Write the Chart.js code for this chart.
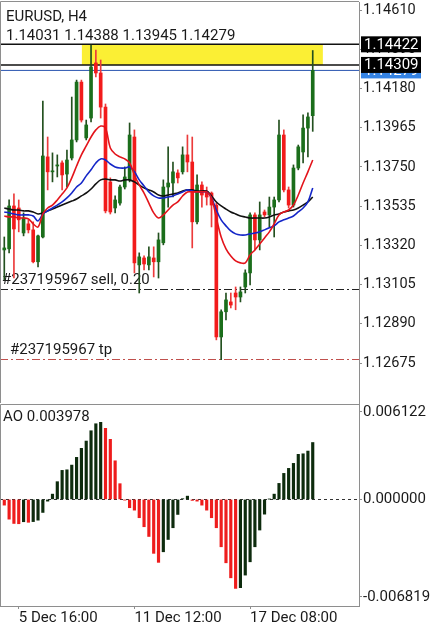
<!DOCTYPE html>
<html>
<head>
<meta charset="utf-8">
<script src="https://cdn.jsdelivr.net/npm/chart.js@4.4.1/dist/chart.umd.min.js"></script>
<style>
  html, body { margin: 0; padding: 0; background: #fff; }
  #wrap { position: relative; width: 434px; height: 625px; overflow: hidden; }
  #main-chart { position: absolute; left: 0; top: 0; }
  #ao-chart { position: absolute; left: 0; top: 404px; }
</style>
</head>
<body>
<div id="wrap">
  <canvas id="main-chart" width="434" height="404"></canvas>
  <canvas id="ao-chart" width="434" height="221"></canvas>
</div>
<script>
// EURUSD H4 candles (oldest -> newest)
var opens  = [1.13295,1.13301,1.13536,1.13525,1.13388,1.13438,1.13405,1.13230,1.13366,1.13805,
              1.13723,1.13755,1.13772,1.13711,1.13799,1.13898,1.14215,1.13909,1.14018,1.14320,
              1.14265,1.14078,1.13668,1.13525,1.13552,1.13640,1.13679,1.13914,1.13213,1.13251,
              1.13213,1.13251,1.13230,1.13334,1.13640,1.13662,1.13717,1.13723,1.13816,1.13777,
              1.13449,1.13651,1.13613,1.13607,1.13541,1.12818,1.12956,1.13010,1.13059,1.13037,
              1.13092,1.13169,1.13487,1.13350,1.13503,1.13487,1.13530,1.13569,1.13925,1.13624,
              1.13541,1.13744,1.13832,1.13963,1.14031];
var highs  = [1.13366,1.13569,1.13602,1.13569,1.13498,1.13460,1.13449,1.13377,1.14111,1.13914,
              1.13827,1.13816,1.13783,1.13843,1.14133,1.14226,1.14226,1.14007,1.14418,1.14391,
              1.14336,1.14095,1.13690,1.13591,1.13651,1.13750,1.13991,1.13953,1.13279,1.13262,
              1.13312,1.13312,1.13388,1.13679,1.13860,1.13777,1.13734,1.13860,1.13925,1.13914,
              1.13706,1.13668,1.13640,1.13613,1.13552,1.12967,1.13059,1.13059,1.13092,1.13092,
              1.13186,1.13498,1.13498,1.13558,1.13514,1.13585,1.13585,1.14007,1.13953,1.13640,
              1.13761,1.13870,1.14035,1.14046,1.14388];
var lows   = [1.13131,1.13279,1.13141,1.13394,1.13372,1.13388,1.13224,1.13202,1.13361,1.13624,
              1.13668,1.13695,1.13624,1.13640,1.13788,1.13887,1.13996,1.13898,1.13996,1.14243,
              1.14018,1.13498,1.13492,1.13498,1.13541,1.13629,1.13668,1.13169,1.13059,1.13186,
              1.13186,1.13147,1.13141,1.13323,1.13530,1.13585,1.13662,1.13711,1.13723,1.13306,
              1.13438,1.13530,1.13541,1.13421,1.12802,1.12693,1.12912,1.12977,1.12967,1.13010,
              1.13059,1.13103,1.13295,1.13295,1.13476,1.13421,1.13366,1.13558,1.13613,1.13525,
              1.13530,1.13734,1.13772,1.13805,1.13945];
var closes = [1.13306,1.13536,1.13410,1.13460,1.13470,1.13405,1.13230,1.13372,1.13810,1.13723,
              1.13728,1.13761,1.13706,1.13788,1.13898,1.14215,1.14007,1.13980,1.14298,1.14265,
              1.14078,1.13509,1.13503,1.13569,1.13640,1.13695,1.13925,1.13224,1.13257,1.13218,
              1.13257,1.13230,1.13350,1.13640,1.13662,1.13723,1.13690,1.13816,1.13777,1.13449,
              1.13651,1.13596,1.13585,1.13541,1.12818,1.12956,1.13021,1.12993,1.13037,1.13065,
              1.13169,1.13487,1.13350,1.13487,1.13487,1.13530,1.13569,1.13925,1.13624,1.13541,
              1.13744,1.13860,1.13963,1.14024,1.14279];

// moving averages as drawn on the chart
var maFast = [1.13481,1.13476,1.13476,1.13470,1.13470,1.13465,1.13438,1.13421,1.13492,1.13525,
              1.13541,1.13569,1.13602,1.13635,1.13690,1.13755,1.13816,1.13865,1.13914,1.13953,
              1.13974,1.13963,1.13854,1.13821,1.13805,1.13794,1.13772,1.13706,1.13651,1.13607,
              1.13552,1.13498,1.13470,1.13487,1.13514,1.13541,1.13558,1.13591,1.13613,1.13613,
              1.13613,1.13613,1.13613,1.13580,1.13470,1.13366,1.13301,1.13262,1.13235,1.13224,
              1.13224,1.13268,1.13295,1.13328,1.13361,1.13394,1.13438,1.13487,1.13503,1.13514,
              1.13541,1.13596,1.13662,1.13723,1.13788];
var maMid  = [1.13503,1.13498,1.13492,1.13487,1.13487,1.13487,1.13481,1.13454,1.13492,1.13509,
              1.13525,1.13541,1.13558,1.13580,1.13607,1.13640,1.13662,1.13701,1.13734,1.13772,
              1.13794,1.13788,1.13766,1.13750,1.13744,1.13744,1.13750,1.13723,1.13679,1.13646,
              1.13613,1.13591,1.13580,1.13580,1.13585,1.13591,1.13602,1.13613,1.13624,1.13618,
              1.13613,1.13613,1.13613,1.13580,1.13514,1.13460,1.13427,1.13399,1.13383,1.13377,
              1.13377,1.13383,1.13388,1.13394,1.13405,1.13416,1.13427,1.13449,1.13460,1.13470,
              1.13481,1.13503,1.13525,1.13558,1.13635];
var maSlow = [1.13525,1.13519,1.13514,1.13514,1.13509,1.13509,1.13503,1.13492,1.13498,1.13509,
              1.13519,1.13530,1.13541,1.13552,1.13563,1.13574,1.13591,1.13607,1.13629,1.13657,
              1.13679,1.13684,1.13679,1.13679,1.13673,1.13679,1.13679,1.13668,1.13651,1.13635,
              1.13624,1.13613,1.13596,1.13591,1.13596,1.13602,1.13607,1.13618,1.13624,1.13624,
              1.13618,1.13618,1.13618,1.13591,1.13558,1.13536,1.13519,1.13503,1.13492,1.13481,
              1.13476,1.13470,1.13470,1.13470,1.13470,1.13476,1.13487,1.13492,1.13503,1.13509,
              1.13514,1.13525,1.13541,1.13558,1.13585];

// Awesome Oscillator
var aoValues = [-0.00040,-0.00138,-0.00168,-0.00170,-0.00156,-0.00160,-0.00155,-0.00145,-0.00091,-0.00012,
                 0.00037, 0.00124, 0.00203, 0.00207, 0.00240, 0.00294, 0.00357, 0.00408, 0.00480, 0.00529,
                 0.00539, 0.00497, 0.00420, 0.00270, 0.00110,-0.00005,-0.00058,-0.00075,-0.00128,-0.00191,
                -0.00259,-0.00377,-0.00440,-0.00366,-0.00280,-0.00198,-0.00105, 0.00005, 0.00023,-0.00007,
                -0.00012,-0.00040,-0.00075,-0.00128,-0.00198,-0.00331,-0.00443,-0.00548,-0.00622,-0.00617,
                -0.00529,-0.00436,-0.00331,-0.00214,-0.00103, 0.00002, 0.00037, 0.00112, 0.00182, 0.00217,
                 0.00252, 0.00315, 0.00319, 0.00338, 0.003978];

// axes
var priceTicks = [1.14610,1.14395,1.14180,1.13965,1.13750,1.13535,1.13320,1.13105,1.12890,1.12675];
var aoTicks = [0.006122, 0, -0.006819];
var dateLabels = ['5 Dec 16:00', '11 Dec 12:00', '17 Dec 08:00'];
var dateBars = [3, 27, 51];

// objects on the chart
var levelLines = [1.14422, 1.14309];
var zoneBars = [16.1, 66.1];
var orderLabel = '#237195967 sell, 0.20';
var orderPrice = 1.13079;
var tpLabel = '#237195967 tp';
var tpPrice = 1.12696;

Chart.defaults.font.family = 'Roboto';
Chart.defaults.color = '#1a1a1a';

const xMin = -0.89, xMax = 73.6;
const GREEN = '#1b6e1b', RED = '#f21b1b';
const AXIS = '#8e8e8e';

function fmt(v, d) { return v.toFixed(d); }

// keep the plot area where MT4 puts it (no room reserved for edge labels)
function noPad(s) {
    s.paddingTop = 0; s.paddingBottom = 0; s.paddingLeft = 0; s.paddingRight = 0;
}

const mainPlugin = {
    id: 'mainPlugin',
    beforeDatasetsDraw(chart) {
        const ctx = chart.ctx;
        const a = chart.chartArea;
        const x = chart.scales.x, y = chart.scales.y;
        ctx.save();
        // yellow zone
        const zx1 = x.getPixelForValue(zoneBars[0]), zx2 = x.getPixelForValue(zoneBars[1]);
        const zy1 = y.getPixelForValue(levelLines[0]), zy2 = y.getPixelForValue(levelLines[1]);
        ctx.fillStyle = '#fbef34';
        ctx.fillRect(zx1, zy1, zx2 - zx1, zy2 - zy1);

        // levels
        ctx.lineWidth = 1.5;
        ctx.strokeStyle = '#111';
        levelLines.forEach(function (p) {
            const py = y.getPixelForValue(p);
            ctx.beginPath(); ctx.moveTo(a.left, py); ctx.lineTo(a.right, py); ctx.stroke();
        });
        // bid line
        const by = y.getPixelForValue(closes[closes.length - 1]);
        ctx.lineWidth = 1;
        ctx.strokeStyle = '#2a55b0';
        ctx.beginPath(); ctx.moveTo(a.left, by); ctx.lineTo(a.right, by); ctx.stroke();

        // order + tp lines
        ctx.setLineDash([8, 3, 2, 3]);
        ctx.strokeStyle = '#222';
        let oy = Math.round(y.getPixelForValue(orderPrice)) + 0.5;
        ctx.beginPath(); ctx.moveTo(a.left, oy); ctx.lineTo(a.right, oy); ctx.stroke();
        ctx.strokeStyle = '#c0504d';
        let ty = Math.round(y.getPixelForValue(tpPrice)) + 0.5;
        ctx.beginPath(); ctx.moveTo(a.left, ty); ctx.lineTo(a.right, ty); ctx.stroke();
        ctx.setLineDash([]);

        ctx.fillStyle = '#1a1a1a';
        ctx.font = '15px Roboto';
        ctx.textBaseline = 'middle';
        ctx.fillText(orderLabel, 2, oy - 9);
        ctx.fillText(tpLabel, 10, ty - 9);

        // header
        const n = closes.length - 1;
        ctx.fillText('EURUSD, H4', 6, 17);
        ctx.fillText([opens[n], highs[n], lows[n], closes[n]].map(v => fmt(v, 5)).join(' '), 6, 36);
        ctx.restore();
    },
    afterDraw(chart) {
        const ctx = chart.ctx;
        const a = chart.chartArea;
        const y = chart.scales.y;
        ctx.save();
        ctx.strokeStyle = AXIS;
        ctx.lineWidth = 1;
        ctx.beginPath();
        ctx.moveTo(a.left + 0.5, a.bottom); ctx.lineTo(a.left + 0.5, a.top - 0.5); ctx.lineTo(a.right, a.top - 0.5);
        ctx.stroke();

        // price boxes on the axis
        const boxes = [
            [closes[closes.length - 1], '#3483e4'],
            [levelLines[0], '#000'],
            [levelLines[1], '#000']
        ];
        ctx.font = '15px Roboto';
        ctx.textBaseline = 'middle';
        boxes.forEach(function (b) {
            const py = y.getPixelForValue(b[0]);
            ctx.fillStyle = b[1];
            ctx.fillRect(361, py - 8, 60, 16);
            ctx.fillStyle = '#fff';
            ctx.fillText(fmt(b[0], 5), 364, py + 0.5);
        });
        ctx.restore();
    }
};

function createMainChart()
{
    const ctx = document.getElementById('main-chart');
    const idx = closes.map((c, i) => i);
    const up = idx.map(i => closes[i] >= opens[i]);

    new Chart(ctx, {
        type: 'bar',
        data: {
            datasets: [
                {
                    type: 'line', label: 'fast', order: 0,
                    data: maFast.map((v, i) => ({x: i, y: v})),
                    borderColor: '#e3141b', borderWidth: 1.6, pointRadius: 0, tension: 0.35
                },
                {
                    type: 'line', label: 'mid', order: 1,
                    data: maMid.map((v, i) => ({x: i, y: v})),
                    borderColor: '#1426c8', borderWidth: 1.6, pointRadius: 0, tension: 0.35
                },
                {
                    type: 'line', label: 'slow', order: 2,
                    data: maSlow.map((v, i) => ({x: i, y: v})),
                    borderColor: '#111', borderWidth: 1.6, pointRadius: 0, tension: 0.35
                },
                {
                    label: 'body', order: 4, grouped: false,
                    data: idx.map(i => ({x: i, y: [opens[i], closes[i]]})),
                    backgroundColor: up.map(u => u ? GREEN : RED),
                    barThickness: 3, minBarLength: 1, borderWidth: 0
                },
                {
                    label: 'wick', order: 5, grouped: false,
                    data: idx.map(i => ({x: i, y: [lows[i], highs[i]]})),
                    backgroundColor: up.map(u => u ? '#23501f' : '#ec3b3b'),
                    barThickness: 1, borderWidth: 0
                }
            ]
        },
        options: {
            responsive: false,
            animation: false,
            devicePixelRatio: 1,
            layout: { padding: { top: 2, bottom: 1, left: 0, right: 0 } },
            plugins: { legend: { display: false }, tooltip: { enabled: false } },
            scales: {
                x: { type: 'linear', min: xMin, max: xMax, offset: false, display: false },
                y: {
                    position: 'right',
                    min: 1.12456, max: 1.14654,
                    afterFit: s => { s.width = 75; noPad(s); },
                    afterBuildTicks: s => { s.ticks = priceTicks.map(v => ({value: v})); },
                    ticks: { callback: v => fmt(v, 5), font: { size: 14.5 }, color: '#1a1a1a', padding: 1, autoSkip: false },
                    grid: { drawOnChartArea: false, tickLength: 3, color: AXIS },
                    border: { color: AXIS }
                }
            }
        },
        plugins: [mainPlugin]
    });
}

const aoPlugin = {
    id: 'aoPlugin',
    beforeDatasetsDraw(chart) {
        const ctx = chart.ctx;
        const a = chart.chartArea;
        const y0 = Math.round(chart.scales.y.getPixelForValue(0)) + 0.5;
        ctx.save();
        ctx.strokeStyle = '#333';
        ctx.lineWidth = 1;
        ctx.setLineDash([3, 3]);
        ctx.beginPath(); ctx.moveTo(a.left, y0); ctx.lineTo(a.right, y0); ctx.stroke();
        ctx.setLineDash([]);
        ctx.fillStyle = '#1a1a1a';
        ctx.font = '15px Roboto';
        ctx.textBaseline = 'middle';
        ctx.fillText('AO ' + fmt(aoValues[aoValues.length - 1], 6), 3, 13);
        ctx.restore();
    },
    afterDraw(chart) {
        const ctx = chart.ctx;
        const a = chart.chartArea;
        ctx.save();
        ctx.strokeStyle = AXIS;
        ctx.lineWidth = 1;
        ctx.beginPath();
        ctx.moveTo(a.left + 0.5, a.bottom); ctx.lineTo(a.left + 0.5, a.top + 0.5); ctx.lineTo(a.right, a.top + 0.5);
        ctx.stroke();
        ctx.restore();
    }
};

function createAOChart()
{
    const ctx = document.getElementById('ao-chart');
    const colors = aoValues.map((v, i) => (i > 0 && v > aoValues[i - 1]) ? '#0d2b0d' : '#ee1c1c');

    new Chart(ctx, {
        type: 'bar',
        data: {
            datasets: [{
                label: 'AO',
                data: aoValues.map((v, i) => ({x: i, y: v})),
                backgroundColor: colors,
                barThickness: 2.5,
                borderWidth: 0
            }]
        },
        options: {
            responsive: false,
            animation: false,
            devicePixelRatio: 1,
            layout: { padding: 0 },
            plugins: { legend: { display: false }, tooltip: { enabled: false } },
            scales: {
                x: {
                    type: 'linear', min: xMin, max: xMax, offset: false,
                    afterFit: s => { s.height = 19; noPad(s); },
                    afterBuildTicks: s => { s.ticks = dateBars.map(v => ({value: v})); },
                    ticks: {
                        callback: (v, i) => dateLabels[i],
                        align: 'start', maxRotation: 0, autoSkip: false,
                        font: { size: 15 }, color: '#1a1a1a', padding: 0
                    },
                    grid: { drawOnChartArea: false, tickLength: 3, color: AXIS, offset: false },
                    border: { color: AXIS }
                },
                y: {
                    position: 'right',
                    min: -0.00745, max: 0.00667,
                    afterFit: s => { s.width = 75; noPad(s); },
                    afterBuildTicks: s => { s.ticks = aoTicks.map(v => ({value: v})); },
                    ticks: { callback: v => fmt(v, 6), font: { size: 15 }, color: '#1a1a1a', padding: 1 },
                    grid: { drawOnChartArea: false, tickLength: 3, color: AXIS },
                    border: { color: AXIS }
                }
            }
        },
        plugins: [aoPlugin]
    });
}

createMainChart()
createAOChart()
</script>
</body>
</html>
